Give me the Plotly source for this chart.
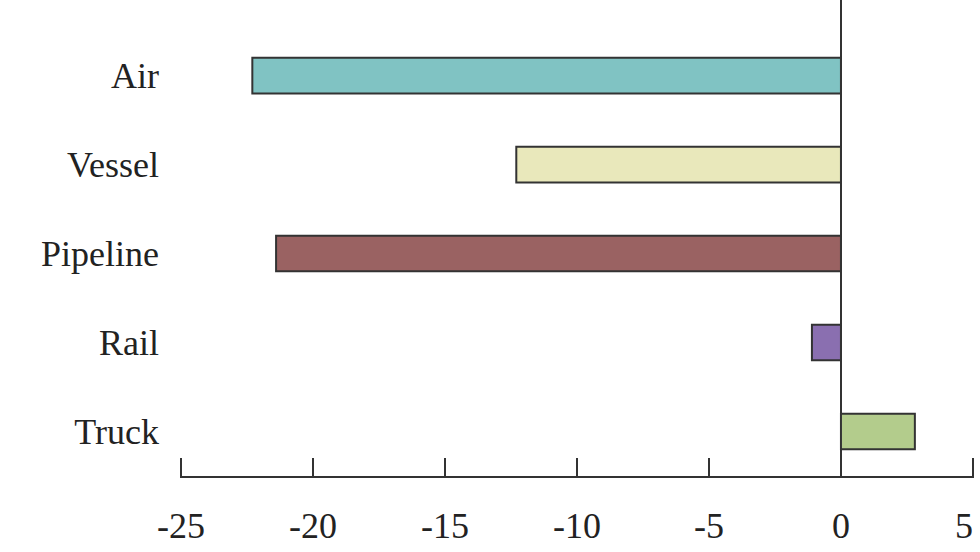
import plotly.graph_objects as go

categories = ["Truck", "Rail", "Pipeline", "Vessel", "Air"]
values = [2.8, -1.1, -21.4, -12.3, -22.3]
colors = ["#b3cc8c", "#8a6fb0", "#9a6262", "#e9e8bb", "#80c3c3"]
x_ticks = [-25, -20, -15, -10, -5, 0, 5]
x_ticktext = ["-25", "-20", "-15", "-10", "-5", "0", "5\u00a0\u00a0"]

fig = go.Figure()
fig.add_trace(go.Bar(
    y=categories, x=values, orientation="h",
    marker=dict(color=colors, line=dict(color="#333333", width=2)),
    width=0.4,
))

font = dict(family="Liberation Serif, Times New Roman, serif", size=36, color="#222222")

fig.update_layout(
    width=980, height=552,
    margin=dict(l=180, r=6, t=0, b=76),
    paper_bgcolor="white", plot_bgcolor="white",
    showlegend=False,
    font=font,
    xaxis=dict(
        range=[-25.04, 5.04], tickvals=x_ticks, ticktext=x_ticktext,
        showgrid=False, showline=True, linecolor="#333333", linewidth=2,
        ticks="inside", ticklen=18, tickwidth=2, tickcolor="#333333",
        zeroline=True, zerolinecolor="#333333", zerolinewidth=2,
        ticklabelstandoff=17, tickfont=font, automargin=False,
        ticklabeloverflow="allow",
    ),
    yaxis=dict(
        categoryorder="array", categoryarray=categories,
        range=[-0.5, 4.85],
        showgrid=False, showline=False, ticks="", zeroline=False,
        ticklabelstandoff=20, tickfont=font, automargin=False,
    ),
)

fig.write_html(
    "out.html",
    config={"displayModeBar": False},
    post_script="document.body.style.margin='0';document.body.style.overflow='hidden';",
)
